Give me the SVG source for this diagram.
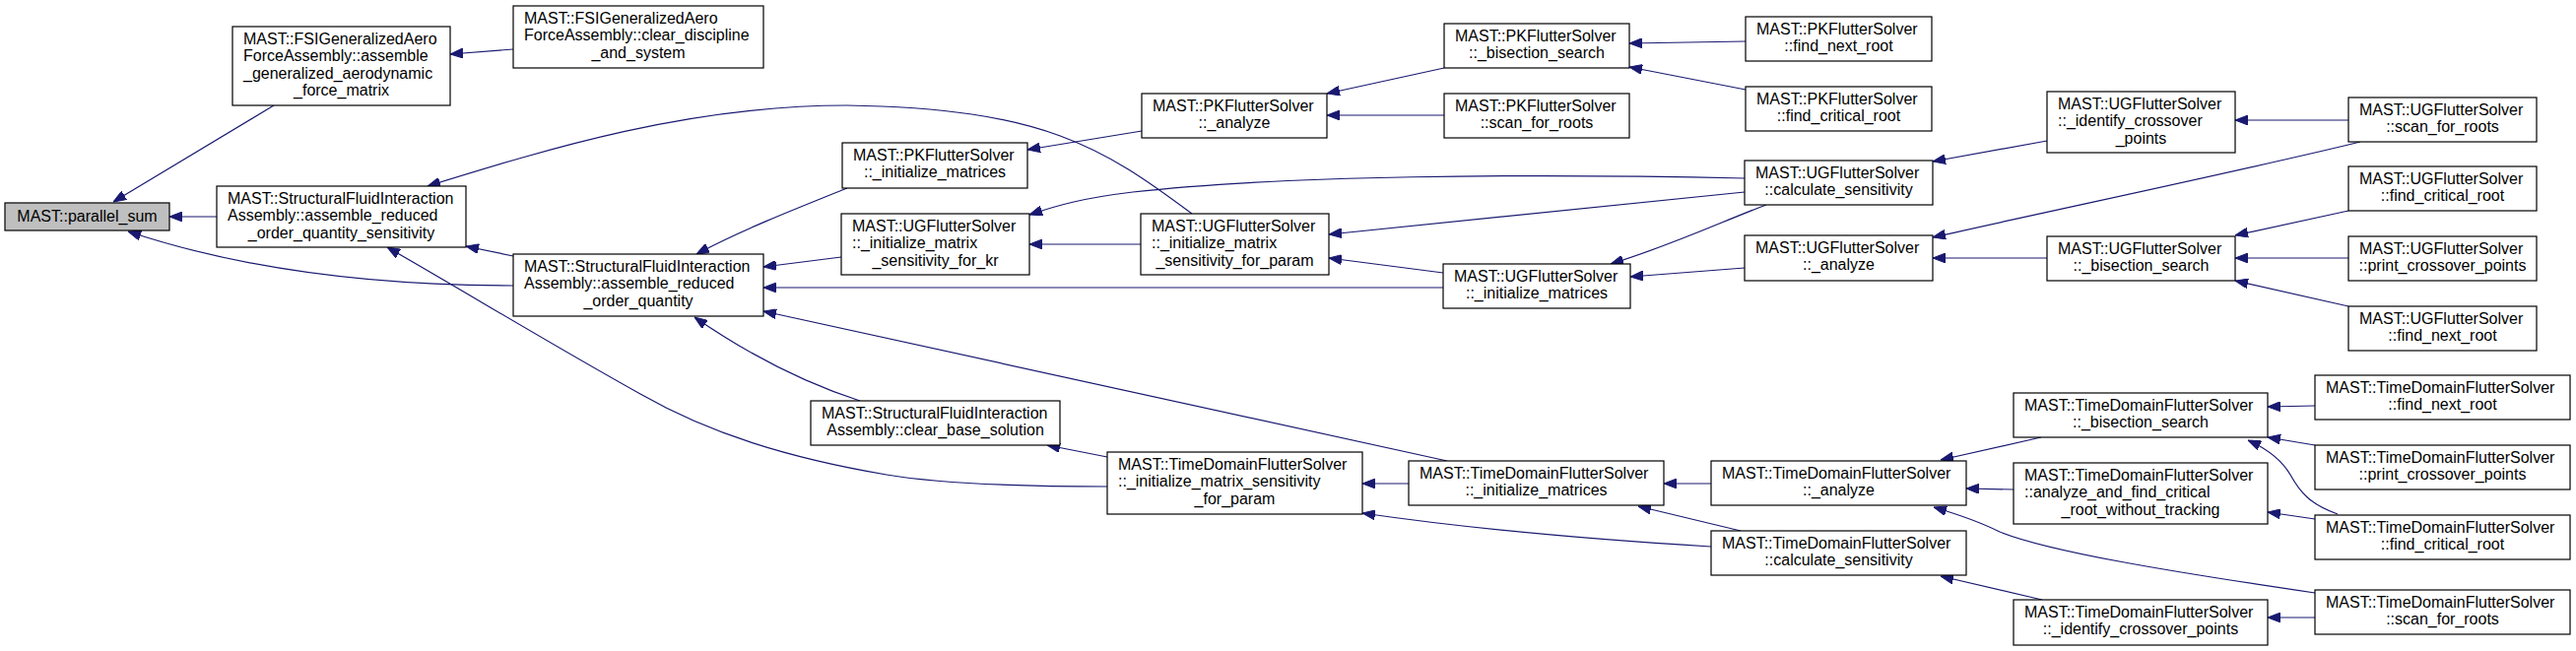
<svg xmlns="http://www.w3.org/2000/svg" width="2615" height="661" viewBox="0 0 2615 661">
<style>
.n rect{fill:#fff;stroke:#000;stroke-width:1.2}
.root rect{fill:#bfbfbf}
text{font-family:"Liberation Sans",Arial,sans-serif;font-size:16px;fill:#000}
.c{text-anchor:middle}
.e path{fill:none;stroke:#191970;stroke-width:1.2;marker-end:url(#ah)}
</style>
<defs>
<marker id="ah" viewBox="0 0 13 10" refX="13" refY="5" markerWidth="13" markerHeight="10" markerUnits="userSpaceOnUse" orient="auto">
<path d="M0,0 L13,5 L0,10 z" fill="#191970" stroke="#191970"/>
</marker>
</defs>
<rect width="2615" height="661" fill="#fff"/>
<g id="connectors" class="e">
<path d="M278,107 L115,205"/>
<path d="M220,220 L172,220"/>
<path d="M521,290 C380,290 250,275 130,235"/>
<path d="M521,50 L457,55"/>
<path d="M521,260 L473,250"/>
<path d="M1210,217 C1120,150 1060,110 860,107 C700,107 560,150 434,189"/>
<path d="M860,191 C800,215 750,235 707,258"/>
<path d="M854,261 L775,271"/>
<path d="M1465,292 L775,292"/>
<path d="M1469,468 L775,316"/>
<path d="M873,407 C820,390 760,360 705,322"/>
<path d="M1124,494 C1050,494 960,492 900,482 C800,465 720,440 650,400 C560,350 470,295 393,251"/>
<path d="M1124,464 L1063,452"/>
<path d="M1159,133 L1043,152"/>
<path d="M1158,248 L1045,248"/>
<path d="M1771,181 C1550,176 1300,178 1150,195 C1100,201 1075,208 1045,218"/>
<path d="M1771,195 L1349,238"/>
<path d="M1465,277 L1349,262"/>
<path d="M1793,208 C1750,224 1700,248 1635,268"/>
<path d="M1771,272 L1655,281"/>
<path d="M1466,69 L1347,95"/>
<path d="M1466,117 L1347,117"/>
<path d="M1772,42 L1654,44"/>
<path d="M1772,91 L1654,68"/>
<path d="M2078,143 L1962,164"/>
<path d="M2384,122 L2269,122"/>
<path d="M2396,144 C2300,168 2100,210 1962,241"/>
<path d="M2078,262 L1962,262"/>
<path d="M2384,214 L2269,239"/>
<path d="M2384,262 L2269,262"/>
<path d="M2384,311 L2269,285"/>
<path d="M1430,491 L1383,491"/>
<path d="M1737,555 C1620,548 1500,538 1383,521"/>
<path d="M1737,491 L1689,491"/>
<path d="M1767,539 L1663,514"/>
<path d="M2072,444 L1970,467"/>
<path d="M2044,497 L1996,496"/>
<path d="M2350,602 C2200,580 2080,560 2030,540 C2010,530 1990,523 1963,515"/>
<path d="M2073,609 L1970,585"/>
<path d="M2350,627 L2302,627"/>
<path d="M2350,412 L2302,413"/>
<path d="M2350,452 L2302,444"/>
<path d="M2373,522 C2345,512 2335,500 2325,482 C2315,465 2300,455 2282,447"/>
<path d="M2350,527 L2302,520"/>
</g>
<g id="n0" class="n root"><rect x="5" y="206" width="167" height="28"/><text class="c" x="88.5" y="225">MAST::parallel_sum</text></g>
<g id="n1" class="n"><rect x="236" y="27" width="221" height="80"/><text x="247" y="45">MAST::FSIGeneralizedAero</text><text x="247" y="62.3">ForceAssembly::assemble</text><text x="247" y="79.6">_generalized_aerodynamic</text><text class="c" x="346.5" y="97">_force_matrix</text></g>
<g id="n2" class="n"><rect x="220" y="189" width="253" height="62"/><text x="231" y="207">MAST::StructuralFluidInteraction</text><text x="231" y="224.3">Assembly::assemble_reduced</text><text class="c" x="346.5" y="241.6">_order_quantity_sensitivity</text></g>
<g id="n3" class="n"><rect x="521" y="6" width="254" height="63"/><text x="532" y="24">MAST::FSIGeneralizedAero</text><text x="532" y="41.3">ForceAssembly::clear_discipline</text><text class="c" x="648" y="58.6">_and_system</text></g>
<g id="n4" class="n"><rect x="521" y="258" width="254" height="63"/><text x="532" y="276">MAST::StructuralFluidInteraction</text><text x="532" y="293.3">Assembly::assemble_reduced</text><text class="c" x="648" y="310.6">_order_quantity</text></g>
<g id="n5" class="n"><rect x="855" y="145" width="188" height="46"/><text x="866" y="163">MAST::PKFlutterSolver</text><text class="c" x="949" y="180.3">::_initialize_matrices</text></g>
<g id="n6" class="n"><rect x="854" y="217" width="191" height="62"/><text x="865" y="235">MAST::UGFlutterSolver</text><text x="865" y="252.3">::_initialize_matrix</text><text class="c" x="949.5" y="269.6">_sensitivity_for_kr</text></g>
<g id="n7" class="n"><rect x="823" y="407" width="253" height="45"/><text x="834" y="425">MAST::StructuralFluidInteraction</text><text class="c" x="949.5" y="442.3">Assembly::clear_base_solution</text></g>
<g id="n8" class="n"><rect x="1159" y="95" width="188" height="45"/><text x="1170" y="113">MAST::PKFlutterSolver</text><text class="c" x="1253" y="130.3">::_analyze</text></g>
<g id="n9" class="n"><rect x="1158" y="217" width="191" height="62"/><text x="1169" y="235">MAST::UGFlutterSolver</text><text x="1169" y="252.3">::_initialize_matrix</text><text class="c" x="1253.5" y="269.6">_sensitivity_for_param</text></g>
<g id="n10" class="n"><rect x="1124" y="459" width="259" height="63"/><text x="1135" y="477">MAST::TimeDomainFlutterSolver</text><text x="1135" y="494.3">::_initialize_matrix_sensitivity</text><text class="c" x="1253.5" y="511.6">_for_param</text></g>
<g id="n11" class="n"><rect x="1466" y="24" width="188" height="45"/><text x="1477" y="42">MAST::PKFlutterSolver</text><text class="c" x="1560" y="59.3">::_bisection_search</text></g>
<g id="n12" class="n"><rect x="1466" y="95" width="188" height="45"/><text x="1477" y="113">MAST::PKFlutterSolver</text><text class="c" x="1560" y="130.3">::scan_for_roots</text></g>
<g id="n13" class="n"><rect x="1465" y="268" width="190" height="45"/><text x="1476" y="286">MAST::UGFlutterSolver</text><text class="c" x="1560" y="303.3">::_initialize_matrices</text></g>
<g id="n14" class="n"><rect x="1430" y="468" width="259" height="45"/><text x="1441" y="486">MAST::TimeDomainFlutterSolver</text><text class="c" x="1559.5" y="503.3">::_initialize_matrices</text></g>
<g id="n15" class="n"><rect x="1772" y="17" width="189" height="45"/><text x="1783" y="35">MAST::PKFlutterSolver</text><text class="c" x="1866.5" y="52.3">::find_next_root</text></g>
<g id="n16" class="n"><rect x="1772" y="88" width="189" height="45"/><text x="1783" y="106">MAST::PKFlutterSolver</text><text class="c" x="1866.5" y="123.3">::find_critical_root</text></g>
<g id="n17" class="n"><rect x="1771" y="163" width="191" height="45"/><text x="1782" y="181">MAST::UGFlutterSolver</text><text class="c" x="1866.5" y="198.3">::calculate_sensitivity</text></g>
<g id="n18" class="n"><rect x="1771" y="239" width="191" height="46"/><text x="1782" y="257">MAST::UGFlutterSolver</text><text class="c" x="1866.5" y="274.3">::_analyze</text></g>
<g id="n19" class="n"><rect x="1737" y="468" width="259" height="45"/><text x="1748" y="486">MAST::TimeDomainFlutterSolver</text><text class="c" x="1866.5" y="503.3">::_analyze</text></g>
<g id="n20" class="n"><rect x="1737" y="539" width="259" height="45"/><text x="1748" y="557">MAST::TimeDomainFlutterSolver</text><text class="c" x="1866.5" y="574.3">::calculate_sensitivity</text></g>
<g id="n21" class="n"><rect x="2078" y="93" width="191" height="62"/><text x="2089" y="111">MAST::UGFlutterSolver</text><text x="2089" y="128.3">::_identify_crossover</text><text class="c" x="2173.5" y="145.6">_points</text></g>
<g id="n22" class="n"><rect x="2078" y="240" width="191" height="45"/><text x="2089" y="258">MAST::UGFlutterSolver</text><text class="c" x="2173.5" y="275.3">::_bisection_search</text></g>
<g id="n23" class="n"><rect x="2044" y="399" width="258" height="45"/><text x="2055" y="417">MAST::TimeDomainFlutterSolver</text><text class="c" x="2173" y="434.3">::_bisection_search</text></g>
<g id="n24" class="n"><rect x="2044" y="470" width="258" height="62"/><text x="2055" y="488">MAST::TimeDomainFlutterSolver</text><text x="2055" y="505.3">::analyze_and_find_critical</text><text class="c" x="2173" y="522.6">_root_without_tracking</text></g>
<g id="n25" class="n"><rect x="2044" y="609" width="258" height="46"/><text x="2055" y="627">MAST::TimeDomainFlutterSolver</text><text class="c" x="2173" y="644.3">::_identify_crossover_points</text></g>
<g id="n26" class="n"><rect x="2384" y="99" width="191" height="45"/><text x="2395" y="117">MAST::UGFlutterSolver</text><text class="c" x="2479.5" y="134.3">::scan_for_roots</text></g>
<g id="n27" class="n"><rect x="2384" y="169" width="191" height="45"/><text x="2395" y="187">MAST::UGFlutterSolver</text><text class="c" x="2479.5" y="204.3">::find_critical_root</text></g>
<g id="n28" class="n"><rect x="2384" y="240" width="191" height="45"/><text x="2395" y="258">MAST::UGFlutterSolver</text><text class="c" x="2479.5" y="275.3">::print_crossover_points</text></g>
<g id="n29" class="n"><rect x="2384" y="311" width="191" height="45"/><text x="2395" y="329">MAST::UGFlutterSolver</text><text class="c" x="2479.5" y="346.3">::find_next_root</text></g>
<g id="n30" class="n"><rect x="2350" y="381" width="259" height="45"/><text x="2361" y="399">MAST::TimeDomainFlutterSolver</text><text class="c" x="2479.5" y="416.3">::find_next_root</text></g>
<g id="n31" class="n"><rect x="2350" y="452" width="259" height="45"/><text x="2361" y="470">MAST::TimeDomainFlutterSolver</text><text class="c" x="2479.5" y="487.3">::print_crossover_points</text></g>
<g id="n32" class="n"><rect x="2350" y="523" width="259" height="45"/><text x="2361" y="541">MAST::TimeDomainFlutterSolver</text><text class="c" x="2479.5" y="558.3">::find_critical_root</text></g>
<g id="n33" class="n"><rect x="2350" y="599" width="259" height="45"/><text x="2361" y="617">MAST::TimeDomainFlutterSolver</text><text class="c" x="2479.5" y="634.3">::scan_for_roots</text></g>
</svg>
